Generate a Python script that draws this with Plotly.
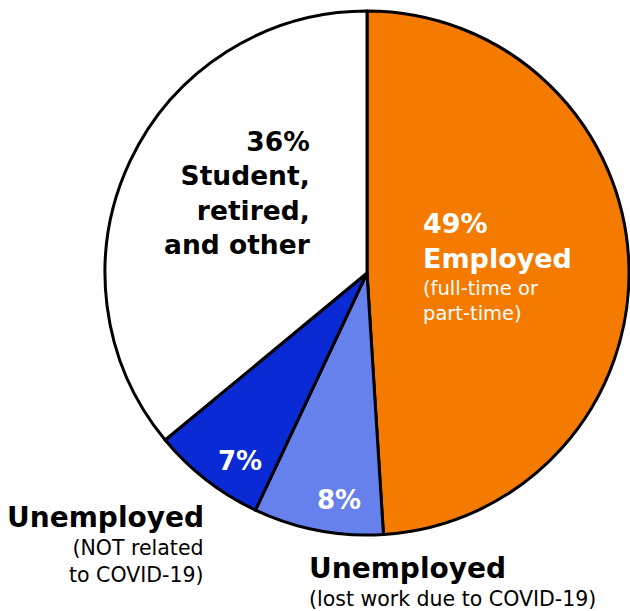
import plotly.graph_objects as go

# Employment status shares (percent)
categories = ["Employed", "Unemployed (lost work due to COVID-19)",
              "Unemployed (NOT related to COVID-19)", "Student, retired, and other"]
shares = [49, 8, 7, 36]
colors = ["#F47A00", "#6680EC", "#0A2AD6", "#FFFFFF"]

W, H = 630, 611
FONT = "DejaVu Sans"

fig = go.Figure(go.Pie(
    labels=categories,
    values=shares,
    sort=False,
    direction="clockwise",
    rotation=0,
    marker=dict(colors=colors, line=dict(color="black", width=3)),
    textinfo="none",
    hoverinfo="label+percent",
    showlegend=False,
    domain=dict(x=[105 / W, 629 / W], y=[1 - 535 / H, 1 - 11 / H]),
))


def px(x, y):
    return x / W, 1 - y / H


def note(x, y, text, size, color, bold=True, anchor="center", xanchor="center"):
    xx, yy = px(x, y)
    fig.add_annotation(
        x=xx, y=yy, xref="paper", yref="paper", text=text, showarrow=False,
        xanchor=xanchor, yanchor="middle", align=anchor,
        font=dict(family=FONT, size=size, color=color, weight="bold" if bold else "normal"),
    )


# Student, retired, and other
note(312, 193, f"{shares[3]}%<br>Student,<br>retired,<br>and other", 26.5, "black",
     anchor="right", xanchor="right")
# Employed
note(421, 241, f"{shares[0]}%<br>Employed", 27, "white", anchor="left", xanchor="left")
note(421, 301, "(full-time or<br>part-time)", 19.5, "white", bold=False,
     anchor="left", xanchor="left")
# Slice percentages
note(240, 461, f"{shares[2]}%", 26, "white")
note(339, 500, f"{shares[1]}%", 26, "white")
# Unemployed (not COVID)
note(206, 517, "Unemployed", 28, "black", anchor="right", xanchor="right")
note(206, 561, "(NOT related<br>to COVID-19)", 20.5, "black", bold=False,
     anchor="right", xanchor="right")
# Unemployed (COVID)
note(307, 568, "Unemployed", 28, "black", anchor="left", xanchor="left")
note(307, 599, "(lost work due to COVID-19)", 20.5, "black", bold=False,
     anchor="left", xanchor="left")

fig.update_layout(
    width=W, height=H,
    margin=dict(l=0, r=0, t=0, b=0),
    paper_bgcolor="white",
    plot_bgcolor="white",
)

fig.write_html("out.html")
